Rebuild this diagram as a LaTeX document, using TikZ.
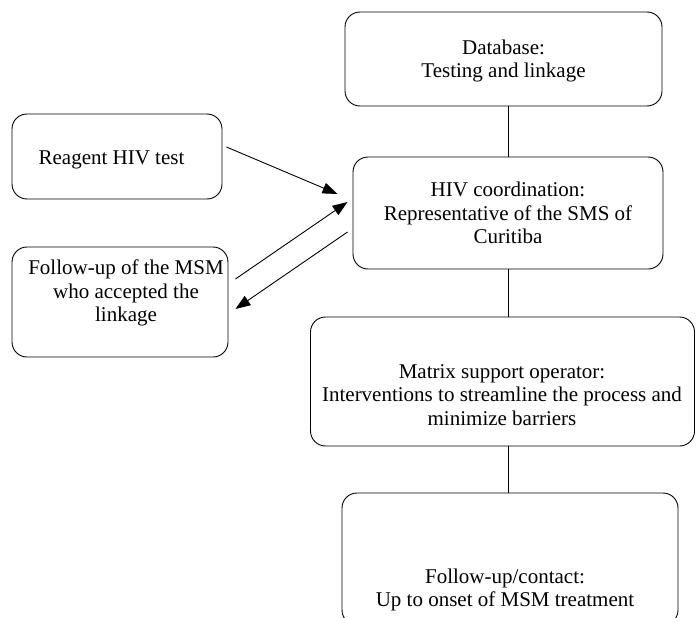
\documentclass[tikz,border=0pt]{standalone}
\usepackage{fontspec}
\setmainfont{Liberation Serif}
\usetikzlibrary{arrows.meta,calc}
\tikzset{
  box/.style={draw, line width=0.9pt, rounded corners=15pt, inner sep=0pt},
  txt/.style={align=center, inner sep=0pt, font=\fontsize{21pt}{23.5pt}\selectfont},
  conn/.style={line width=0.9pt},
  arr/.style={line width=0.9pt, -{Triangle[length=15pt,width=11pt]}}
}
\begin{document}
\begin{tikzpicture}[x=1pt,y=-1pt]
\useasboundingbox (0,0) rectangle (696,618);
\clip (0,0) rectangle (696,618);
% boxes
\node[box, minimum width=317pt, minimum height=94pt] (db) at (503.5,59) {};
\node[box, minimum width=210pt, minimum height=85pt] (rea) at (117,156.5) {};
\node[box, minimum width=216pt, minimum height=110pt] (fol) at (120,302) {};
\node[box, minimum width=310pt, minimum height=112pt] (hiv) at (508,213) {};
\node[box, minimum width=384pt, minimum height=129pt] (mat) at (502.5,381.5) {};
\node[box, minimum width=336pt, minimum height=132pt] (bot) at (510,559) {};
% texts
\node[txt] (dbt) at (503.5,61) {Database:\\Testing and linkage};
\node[txt] (reat) at (111.5,160) {Reagent HIV test};
\node[txt] (folt) at (126,293) {Follow-up of the MSM\\who accepted the\\linkage};
\node[txt] (hivt) at (508,213) {HIV coordination:\\Representative of the SMS of\\Curitiba};
\node[txt] (matt) at (502,395) {Matrix support operator:\\Interventions to streamline the process and\\minimize barriers};
\node[txt] (bott) at (505,590) {Follow-up/contact:\\Up to onset of MSM treatment};
% vertical connectors
\draw[conn] (db.south -| hiv.north) -- (hiv.north);
\draw[conn] (hiv.south) -- (hiv.south |- mat.north);
\draw[conn] (mat.south -| hiv.south) -- (bot.north -| hiv.south);
% arrows
\coordinate (a1s) at ($(rea.east)+(4,-9.5)$);
\coordinate (a1e) at ($(hiv.west)+(-15,-19)$);
\coordinate (a2s) at ($(fol.east)+(7,-23)$);
\coordinate (a2e) at ($(hiv.west)+(-5,-11)$);
\coordinate (a3s) at ($(hiv.west)+(-5,19)$);
\coordinate (a3e) at ($(fol.east)+(7,7)$);
\draw[arr] (a1s) -- (a1e);
\draw[arr] (a2s) -- (a2e);
\draw[arr] (a3s) -- (a3e);
\end{tikzpicture}
\end{document}
